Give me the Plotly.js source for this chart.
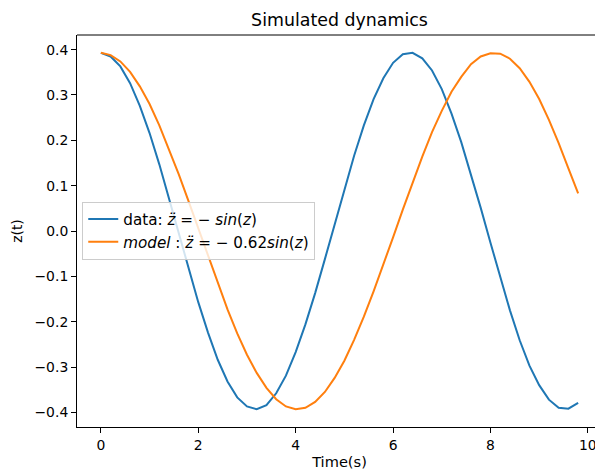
<!DOCTYPE html>
<html>
<head>
<meta charset="utf-8">
<script src="https://cdn.plot.ly/plotly-3.0.1.min.js"></script>
<style>
  html, body { margin: 0; padding: 0; overflow: hidden; background: #fff; }
  #chart { width: 620px; height: 473px; }
</style>
</head>
<body>
<div id="chart"></div>
<script>
// Sample times (s)
const time = [
  0.0, 0.2, 0.4, 0.6, 0.8, 1.0, 1.2, 1.4, 1.6, 1.8,
  2.0, 2.2, 2.4, 2.6, 2.8, 3.0, 3.2, 3.4, 3.6, 3.8,
  4.0, 4.2, 4.4, 4.6, 4.8, 5.0, 5.2, 5.4, 5.6, 5.8,
  6.0, 6.2, 6.4, 6.6, 6.8, 7.0, 7.2, 7.4, 7.6, 7.8,
  8.0, 8.2, 8.4, 8.6, 8.8, 9.0, 9.2, 9.4, 9.6, 9.8
];

// Pendulum trajectory, z'' = -sin(z)
const zData = [
  0.393, 0.385, 0.363, 0.326, 0.276, 0.216, 0.147, 0.072, -0.006, -0.083,
  -0.157, -0.224, -0.284, -0.332, -0.367, -0.387, -0.393, -0.384, -0.358, -0.319,
  -0.267, -0.206, -0.137, -0.062, 0.016, 0.093, 0.166, 0.233, 0.291, 0.337,
  0.371, 0.390, 0.393, 0.381, 0.354, 0.313, 0.259, 0.196, 0.126, 0.051,
  -0.026, -0.103, -0.175, -0.241, -0.297, -0.340, -0.372, -0.390, -0.392, -0.379
];

// Fitted model trajectory, z'' = -0.62 sin(z)
const zModel = [
  0.393, 0.388, 0.374, 0.351, 0.319, 0.280, 0.233, 0.181, 0.125, 0.066,
  0.005, -0.056, -0.116, -0.173, -0.226, -0.273, -0.313, -0.346, -0.371, -0.387,
  -0.393, -0.390, -0.377, -0.355, -0.324, -0.286, -0.240, -0.189, -0.133, -0.075,
  -0.014, 0.047, 0.107, 0.164, 0.218, 0.265, 0.307, 0.340, 0.368, 0.385,
  0.392, 0.391, 0.380, 0.359, 0.329, 0.291, 0.245, 0.194, 0.138, 0.083
];

const xTicks = [0, 2, 4, 6, 8, 10];
const yTicks = [-0.4, -0.3, -0.2, -0.1, 0.0, 0.1, 0.2, 0.3, 0.4];

const font = 'DejaVu Sans, sans-serif';

const traces = [
  {
    x: time, y: zData, type: 'scatter', mode: 'lines',
    name: 'data: <i>z̈</i> = − <i>sin</i>(<i>z</i>)',
    line: { color: '#1f77b4', width: 2 }
  },
  {
    x: time, y: zModel, type: 'scatter', mode: 'lines',
    name: '<i>model</i> : <i>z̈</i> = − 0.62<i>sin</i>(<i>z</i>)',
    line: { color: '#ff7f0e', width: 2 }
  }
];

const layout = {
  width: 620, height: 473,
  margin: { l: 77, r: 18, t: 35, b: 46 },
  paper_bgcolor: '#fff', plot_bgcolor: '#fff',
  font: { family: font, size: 13.9, color: '#000' },
  title: { text: 'Simulated dynamics', font: { family: font, size: 17.4, color: '#000' },
           x: 0.5, xref: 'paper', y: 1, yref: 'paper', yanchor: 'bottom', pad: { b: 9 } },
  showlegend: true,
  legend: {
    x: 0.01, y: 0.575, xanchor: 'left', yanchor: 'top',
    bgcolor: 'rgba(255,255,255,0.8)', bordercolor: '#cccccc', borderwidth: 1,
    font: { family: font, size: 15.2, color: '#000' },
    tracegroupgap: 0
  },
  xaxis: {
    range: [-0.49, 10.29], tickvals: xTicks, ticktext: xTicks.map(String),
    showgrid: false, zeroline: false, showline: true, linecolor: '#000', linewidth: 1,
    ticks: 'outside', ticklen: 5, tickwidth: 1, tickcolor: '#000',
    tickfont: { family: font, size: 13.9 },
    title: { text: 'Time(s)', font: { family: font, size: 14.6 }, standoff: 5 }
  },
  yaxis: {
    range: [-0.4323, 0.4323], tickvals: yTicks, tickformat: '.1f',
    showgrid: false, zeroline: false, showline: true, linecolor: '#000', linewidth: 1,
    ticks: 'outside', ticklen: 5, tickwidth: 1, tickcolor: '#000',
    tickfont: { family: font, size: 13.9 },
    title: { text: 'z(t)', font: { family: font, size: 13.9 }, standoff: 8 }
  },
  shapes: [
    { type: 'line', xref: 'paper', yref: 'paper', x0: 0, x1: 1, y0: 1, y1: 1,
      line: { color: '#000', width: 1 } },
    { type: 'line', xref: 'paper', yref: 'paper', x0: 1, x1: 1, y0: 0, y1: 1,
      line: { color: '#000', width: 1 } }
  ]
};

Plotly.newPlot('chart', traces, layout, { displayModeBar: false, staticPlot: true });
</script>
</body>
</html>
